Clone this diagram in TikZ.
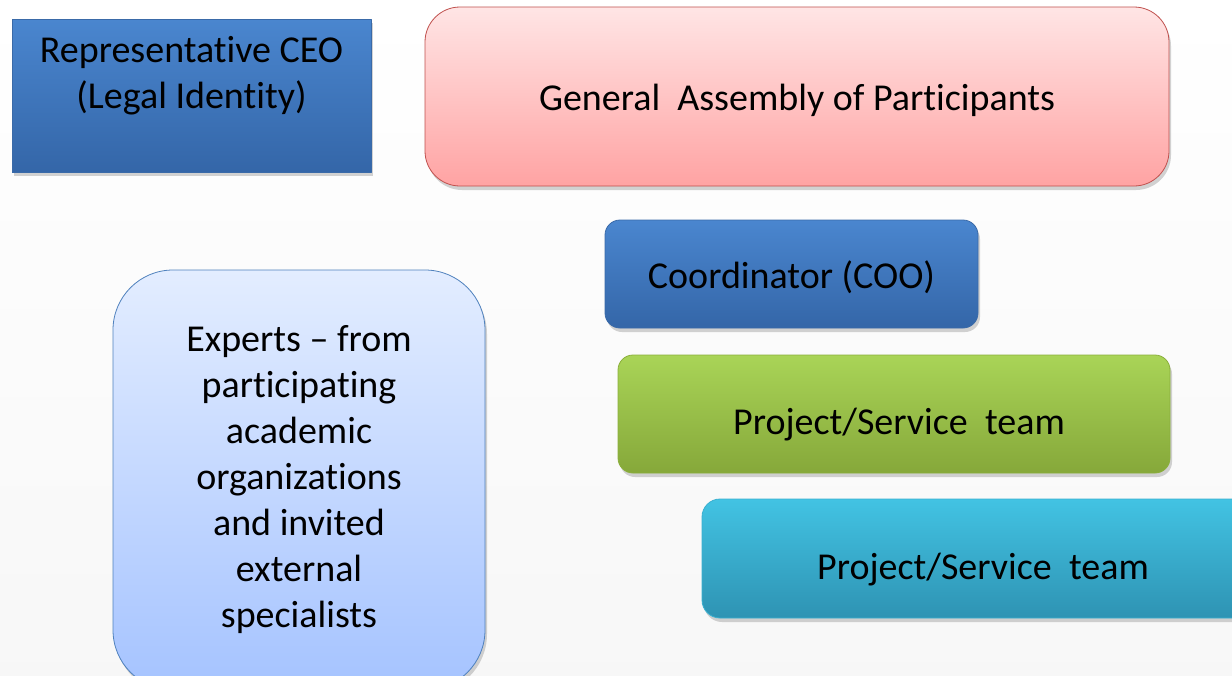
\documentclass[tikz,border=0pt]{standalone}
\usepackage{fontspec}
\setmainfont{Carlito}[Ligatures=NoCommon]
\usetikzlibrary{shadows}
\definecolor{bluetop}{HTML}{4A86CF}
\definecolor{bluebot}{HTML}{3466A8}
\definecolor{blueline}{HTML}{3A6AA8}
\definecolor{pinktop}{HTML}{FFE5E5}
\definecolor{pinkbot}{HTML}{FFA3A3}
\definecolor{pinkline}{HTML}{C0504D}
\definecolor{greentop}{HTML}{A9D457}
\definecolor{greenbot}{HTML}{86A83A}
\definecolor{greenline}{HTML}{8BAF3C}
\definecolor{cyantop}{HTML}{42C3E3}
\definecolor{cyanbot}{HTML}{2E93B3}
\definecolor{cyanline}{HTML}{3AB0D0}
\definecolor{skytop}{HTML}{E3EDFF}
\definecolor{skybot}{HTML}{A5C3FF}
\definecolor{skyline}{HTML}{4F81BD}
\newcommand{\lowertext}[2]{\raisebox{-#1}[\height][\depth]{#2}}
\begin{document}
\begin{tikzpicture}[x=0.5pt,y=-0.5pt,line join=round]
	\tikzset{box/.style={align=center,inner sep=0pt,font=\fontsize{19}{23}\selectfont,
			drop shadow={opacity=0.35,shadow xshift=1pt,shadow yshift=-2pt}},
		bluebox/.style={box,draw=blueline,top color=bluetop,bottom color=bluebot},
		pinkbox/.style={box,draw=pinkline,top color=pinktop,bottom color=pinkbot,rounded corners=17.5pt},
		greenbox/.style={box,draw=greenline,top color=greentop,bottom color=greenbot,rounded corners=7.5pt},
		cyanbox/.style={box,draw=cyanline,top color=cyantop,bottom color=cyanbot,rounded corners=9pt},
		skybox/.style={box,draw=skyline,top color=skytop,bottom color=skybot,rounded corners=30pt}}
	\useasboundingbox (0,0) rectangle (1232,675);
	\clip (0,0) rectangle (1232,675);
	\shade[top color=white,bottom color=black!3] (0,0) rectangle (1232,675);
	% top row
	\node[bluebox,minimum width=179.5pt,minimum height=76.5pt] (ceo) at (191.5,95.5)
		{Representative CEO\\(Legal Identity)\\ \mbox{}};
	\node[pinkbox,minimum width=372pt,minimum height=89.5pt] (assembly) at (797,96.5)
		{\lowertext{2pt}{General~ Assembly of Participants}};
	% right column
	\node[bluebox,rounded corners=7.5pt,minimum width=186.5pt,minimum height=54pt] (coo) at (791.5,274)
		{\lowertext{1.5pt}{Coordinator (COO)}};
	\node[greenbox,minimum width=276pt,minimum height=59pt] (team1) at (894,414)
		{\hspace*{5pt}\lowertext{5.5pt}{Project/Service~ team}};
	\node[cyanbox,minimum width=281pt,minimum height=59.5pt] (team2) at (983,558.5)
		{\lowertext{5.5pt}{Project/Service~ team}};
	% left column
	\node[skybox,minimum width=186pt,minimum height=210pt] (experts) at (299,480)
		{Experts -- from\\participating\\academic\\organizations\\and invited\\external\\specialists};
\end{tikzpicture}
\end{document}
